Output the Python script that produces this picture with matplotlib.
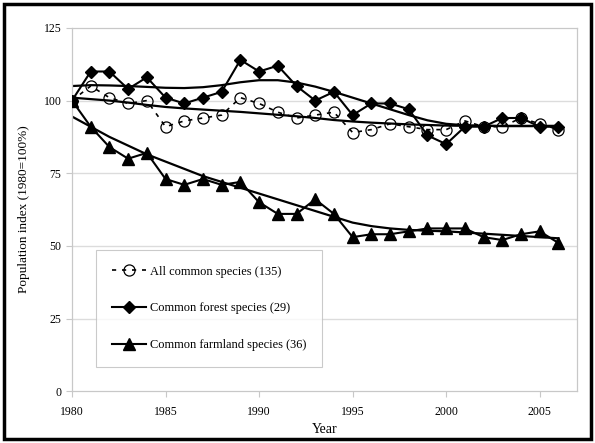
import matplotlib
matplotlib.use("Agg")
import matplotlib.pyplot as plt
from matplotlib.patches import Rectangle

plt.rcParams["font.family"] = ["Liberation Serif", "DejaVu Serif"]

years = list(range(1980, 2007))

# yearly indices
all_species = [100, 105, 101, 99, 100, 91, 93, 94, 95, 101, 99, 96, 94, 95,
               96, 89, 90, 92, 91, 90, 90, 93, 91, 91, 94, 92, 90]
forest = [100, 110, 110, 104, 108, 101, 99, 101, 103, 114, 110, 112, 105, 100,
          103, 95, 99, 99, 97, 88, 85, 91, 91, 94, 94, 91, 91]
farmland = [100, 91, 84, 80, 82, 73, 71, 73, 71, 72, 65, 61, 61, 66,
            61, 53, 54, 54, 55, 56, 56, 56, 53, 52, 54, 55, 51]

# smoothed trend lines
all_trend = [101, 100.5, 100, 99.3, 98.5, 97.8, 97.3, 96.9, 96.5, 96.1, 95.6,
             95.1, 94.6, 94, 93.3, 92.8, 92.4, 92.1, 91.8, 91.6, 91.4, 91.3,
             91.3, 91.2, 91.2, 91.2, 91.2]
forest_trend = [105, 105.3, 105.2, 105, 104.7, 104.4, 104.3, 104.6, 105.3,
                106.3, 107, 107, 106.2, 104.8, 103, 101, 99, 97, 95, 93.2, 92,
                91.5, 91.3, 91.3, 91.3, 91.3, 91.3]
farm_trend = [94.5, 91, 87.5, 84.5, 81.5, 79, 76.5, 74, 72, 70, 68, 66, 64,
              62, 60, 58, 56.8, 56, 55.5, 55.2, 55, 54.6, 54.2, 53.8, 53.4,
              53, 52.6]

fig = plt.figure(figsize=(5.95, 4.43), dpi=100)
ax = fig.add_axes([0.121, 0.117, 0.849, 0.820])

grid_c = "#c8c8c8"
for y in [25, 50, 75, 100]:
    ax.axhline(y, color="#dcdcdc", lw=1.0, zorder=0)

# trend lines
for tr in (all_trend, forest_trend, farm_trend):
    ax.plot(years, tr, color="black", lw=1.6, zorder=2)

ax.plot(years, all_species, color="black", lw=1.2, ls=(0, (2.5, 3.5)),
        marker="o", ms=8, mfc="none", mec="black", mew=0.9,
        label="All common species (135)", zorder=3)
ax.plot(years, forest, color="black", lw=1.5, marker="D", ms=6,
        label="Common forest species (29)", zorder=4)
ax.plot(years, farmland, color="black", lw=1.5, marker="^", ms=8,
        label="Common farmland species (36)", zorder=4)

ax.set_xlim(1980, 2007)
ax.set_ylim(0, 125)
ax.set_xticks([1980, 1985, 1990, 1995, 2000, 2005])
ax.set_yticks([0, 25, 50, 75, 100, 125])
ax.tick_params(colors=grid_c, labelcolor="black", labelsize=8.5, length=4,
               width=0.8, direction="out")
ax.tick_params(axis="x", pad=7)
for s in ax.spines.values():
    s.set_color(grid_c)
    s.set_linewidth(0.9)

ax.set_xlabel("Year", fontsize=10, labelpad=3)
ax.set_ylabel("Population index (1980=100%)", fontsize=9.5, labelpad=10)

leg = ax.legend(loc="lower left", bbox_to_anchor=(0.048, 0.066), fontsize=8.9,
                frameon=True, fancybox=False, edgecolor="#bdbdbd",
                handlelength=2.7, labelspacing=2.0, borderpad=1.3,
                handletextpad=0.35, borderaxespad=0)
leg.get_frame().set_linewidth(0.8)

fig.patches.append(Rectangle((0.007, 0.009), 0.986, 0.982,
                             transform=fig.transFigure, fill=False,
                             edgecolor="black", lw=2.5))

fig.savefig("out.png", dpi=100)
